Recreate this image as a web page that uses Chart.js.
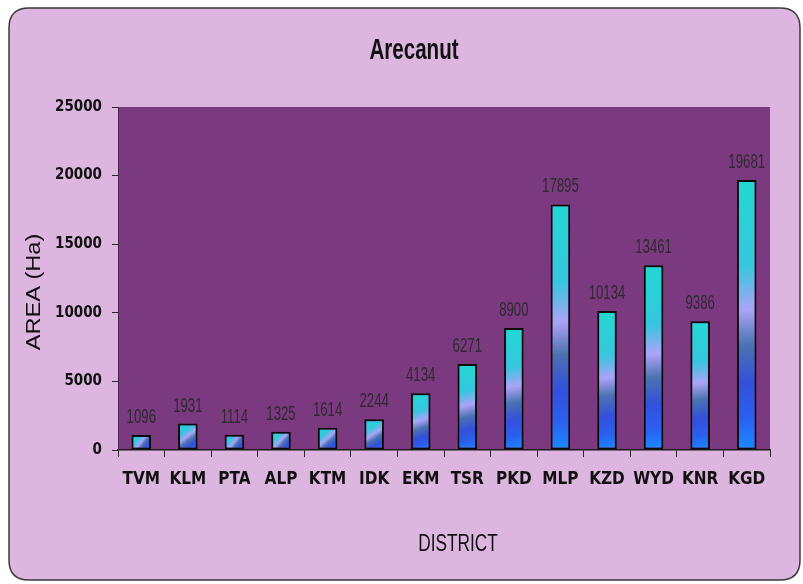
<!DOCTYPE html>
<html><head><meta charset="utf-8">
<script src="https://cdn.jsdelivr.net/npm/chart.js@4.4.1/dist/chart.umd.min.js"></script>
<style>html,body{margin:0;padding:0;background:#ffffff}#c{display:block}</style>
</head><body>
<canvas id="c" width="803" height="584"></canvas>
<script>
const districts = ['TVM','KLM','PTA','ALP','KTM','IDK','EKM','TSR','PKD','MLP','KZD','WYD','KNR','KGD'];
const areaHa = [1096, 1931, 1114, 1325, 1614, 2244, 4134, 6271, 8900, 17895, 10134, 13461, 9386, 19681];
const yTicks = [0, 5000, 10000, 15000, 20000, 25000];
const chartTitle = 'Arecanut';
const xTitle = 'DISTRICT';
const yTitle = 'AREA (Ha)';

const COND = "'DejaVu Sans Condensed', 'Liberation Sans', sans-serif";
const SANS = "'Liberation Sans', Arial, sans-serif";
const BAR_PCT = 0.42;

function barFill(ctx) {
  const chart = ctx.chart;
  const xs = chart.scales.x, ys = chart.scales.y;
  if (!xs || !ys || !chart.chartArea) return '#2a6af0';
  const cx = xs.getPixelForValue(ctx.dataIndex);
  const w = (chart.chartArea.right - chart.chartArea.left) / districts.length * BAR_PCT;
  const top = ys.getPixelForValue(areaHa[ctx.dataIndex]);
  const bot = ys.getPixelForValue(0);
  const g = chart.ctx.createLinearGradient(cx - w / 2, top, cx + w / 2, bot);
  g.addColorStop(0, '#22d8d2');
  g.addColorStop(0.32, '#36c6de');
  g.addColorStop(0.48, '#aaa4f6');
  g.addColorStop(0.61, '#4a72b0');
  g.addColorStop(0.75, '#3350dc');
  g.addColorStop(0.88, '#2a60ee');
  g.addColorStop(1, '#1a8cff');
  return g;
}

const framePlugin = {
  id: 'frame',
  beforeDraw(chart) {
    const c = chart.ctx, a = chart.chartArea;
    c.save();
    c.fillStyle = '#ffffff';
    c.fillRect(0, 0, chart.width, chart.height);
    const x0 = 9, y0 = 8, x1 = 800, y1 = 580, r = 20;
    c.beginPath();
    c.moveTo(x0 + r, y0);
    c.lineTo(x1 - r, y0); c.quadraticCurveTo(x1, y0, x1, y0 + r);
    c.lineTo(x1, y1 - r); c.quadraticCurveTo(x1, y1, x1 - r, y1);
    c.lineTo(x0 + r, y1); c.quadraticCurveTo(x0, y1, x0, y1 - r);
    c.lineTo(x0, y0 + r); c.quadraticCurveTo(x0, y0, x0 + r, y0);
    c.closePath();
    c.fillStyle = '#dcb6de';
    c.fill();
    c.lineWidth = 1.5;
    c.strokeStyle = '#3a3a3a';
    c.stroke();
    c.fillStyle = '#7b3a7f';
    c.fillRect(a.left, a.top, a.right - a.left, a.bottom - a.top);
    c.restore();
  }
};

const textPlugin = {
  id: 'texts',
  afterDatasetsDraw(chart) {
    const c = chart.ctx;
    const meta = chart.getDatasetMeta(0);
    c.save();
    c.fillStyle = '#2e2a30';
    c.font = "20px " + SANS;
    c.textAlign = 'center';
    c.textBaseline = 'alphabetic';
    meta.data.forEach((bar, i) => {
      c.save();
      c.translate(bar.x, bar.y - 12);
      c.scale(0.66, 1);
      c.fillText(String(areaHa[i]), 0, 0);
      c.restore();
    });
    c.restore();
  },
  afterDraw(chart) {
    const c = chart.ctx;
    c.save();
    c.fillStyle = '#111111';
    c.textAlign = 'center';
    c.textBaseline = 'alphabetic';
    c.save();
    c.font = "bold 29px " + SANS;
    c.translate(414, 59);
    c.scale(0.71, 1);
    c.fillText(chartTitle, 0, 0);
    c.restore();
    c.save();
    c.font = "23px " + SANS;
    c.translate(458, 551);
    c.scale(0.75, 1);
    c.fillText(xTitle, 0, 0);
    c.restore();
    c.save();
    c.font = "20px " + SANS;
    c.translate(40, 292);
    c.rotate(-Math.PI / 2);
    c.scale(1.18, 1);
    c.fillText(yTitle, 0, 0);
    c.restore();
    c.restore();
  }
};

new Chart(document.getElementById('c'), {
  type: 'bar',
  data: {
    labels: districts,
    datasets: [{
      data: areaHa,
      backgroundColor: barFill,
      borderColor: '#0a0a0a',
      borderWidth: 2,
      borderSkipped: false,
      barPercentage: BAR_PCT,
      categoryPercentage: 1
    }]
  },
  options: {
    responsive: false,
    animation: false,
    devicePixelRatio: 1,
    layout: { padding: { left: 20, right: 33, top: 107, bottom: 0 } },
    plugins: { legend: { display: false }, title: { display: false }, tooltip: { enabled: false } },
    scales: {
      x: {
        afterFit(s) { s.height = 134; },
        grid: { display: true, drawOnChartArea: false, drawTicks: true, tickLength: 7, color: '#2a2a2a', lineWidth: 1, offset: true },
        border: { display: true, color: '#1a1a1a', width: 1.5 },
        ticks: { color: '#111111', font: { family: COND, size: 17, weight: 'bold' }, padding: 12, maxRotation: 0, autoSkip: false }
      },
      y: {
        min: 0, max: 25000,
        afterFit(s) { s.width = 98; },
        afterBuildTicks(s) { s.ticks = yTicks.map(v => ({ value: v })); },
        grid: { display: true, drawOnChartArea: false, drawTicks: true, tickLength: 6, color: '#2a2a2a', lineWidth: 1 },
        border: { display: true, color: '#4a2a4c', width: 1 },
        ticks: { color: '#111111', font: { family: COND, size: 15, weight: 'bold' }, padding: 10, callback: v => String(v) }
      }
    }
  },
  plugins: [framePlugin, textPlugin]
});
</script>
</body></html>
